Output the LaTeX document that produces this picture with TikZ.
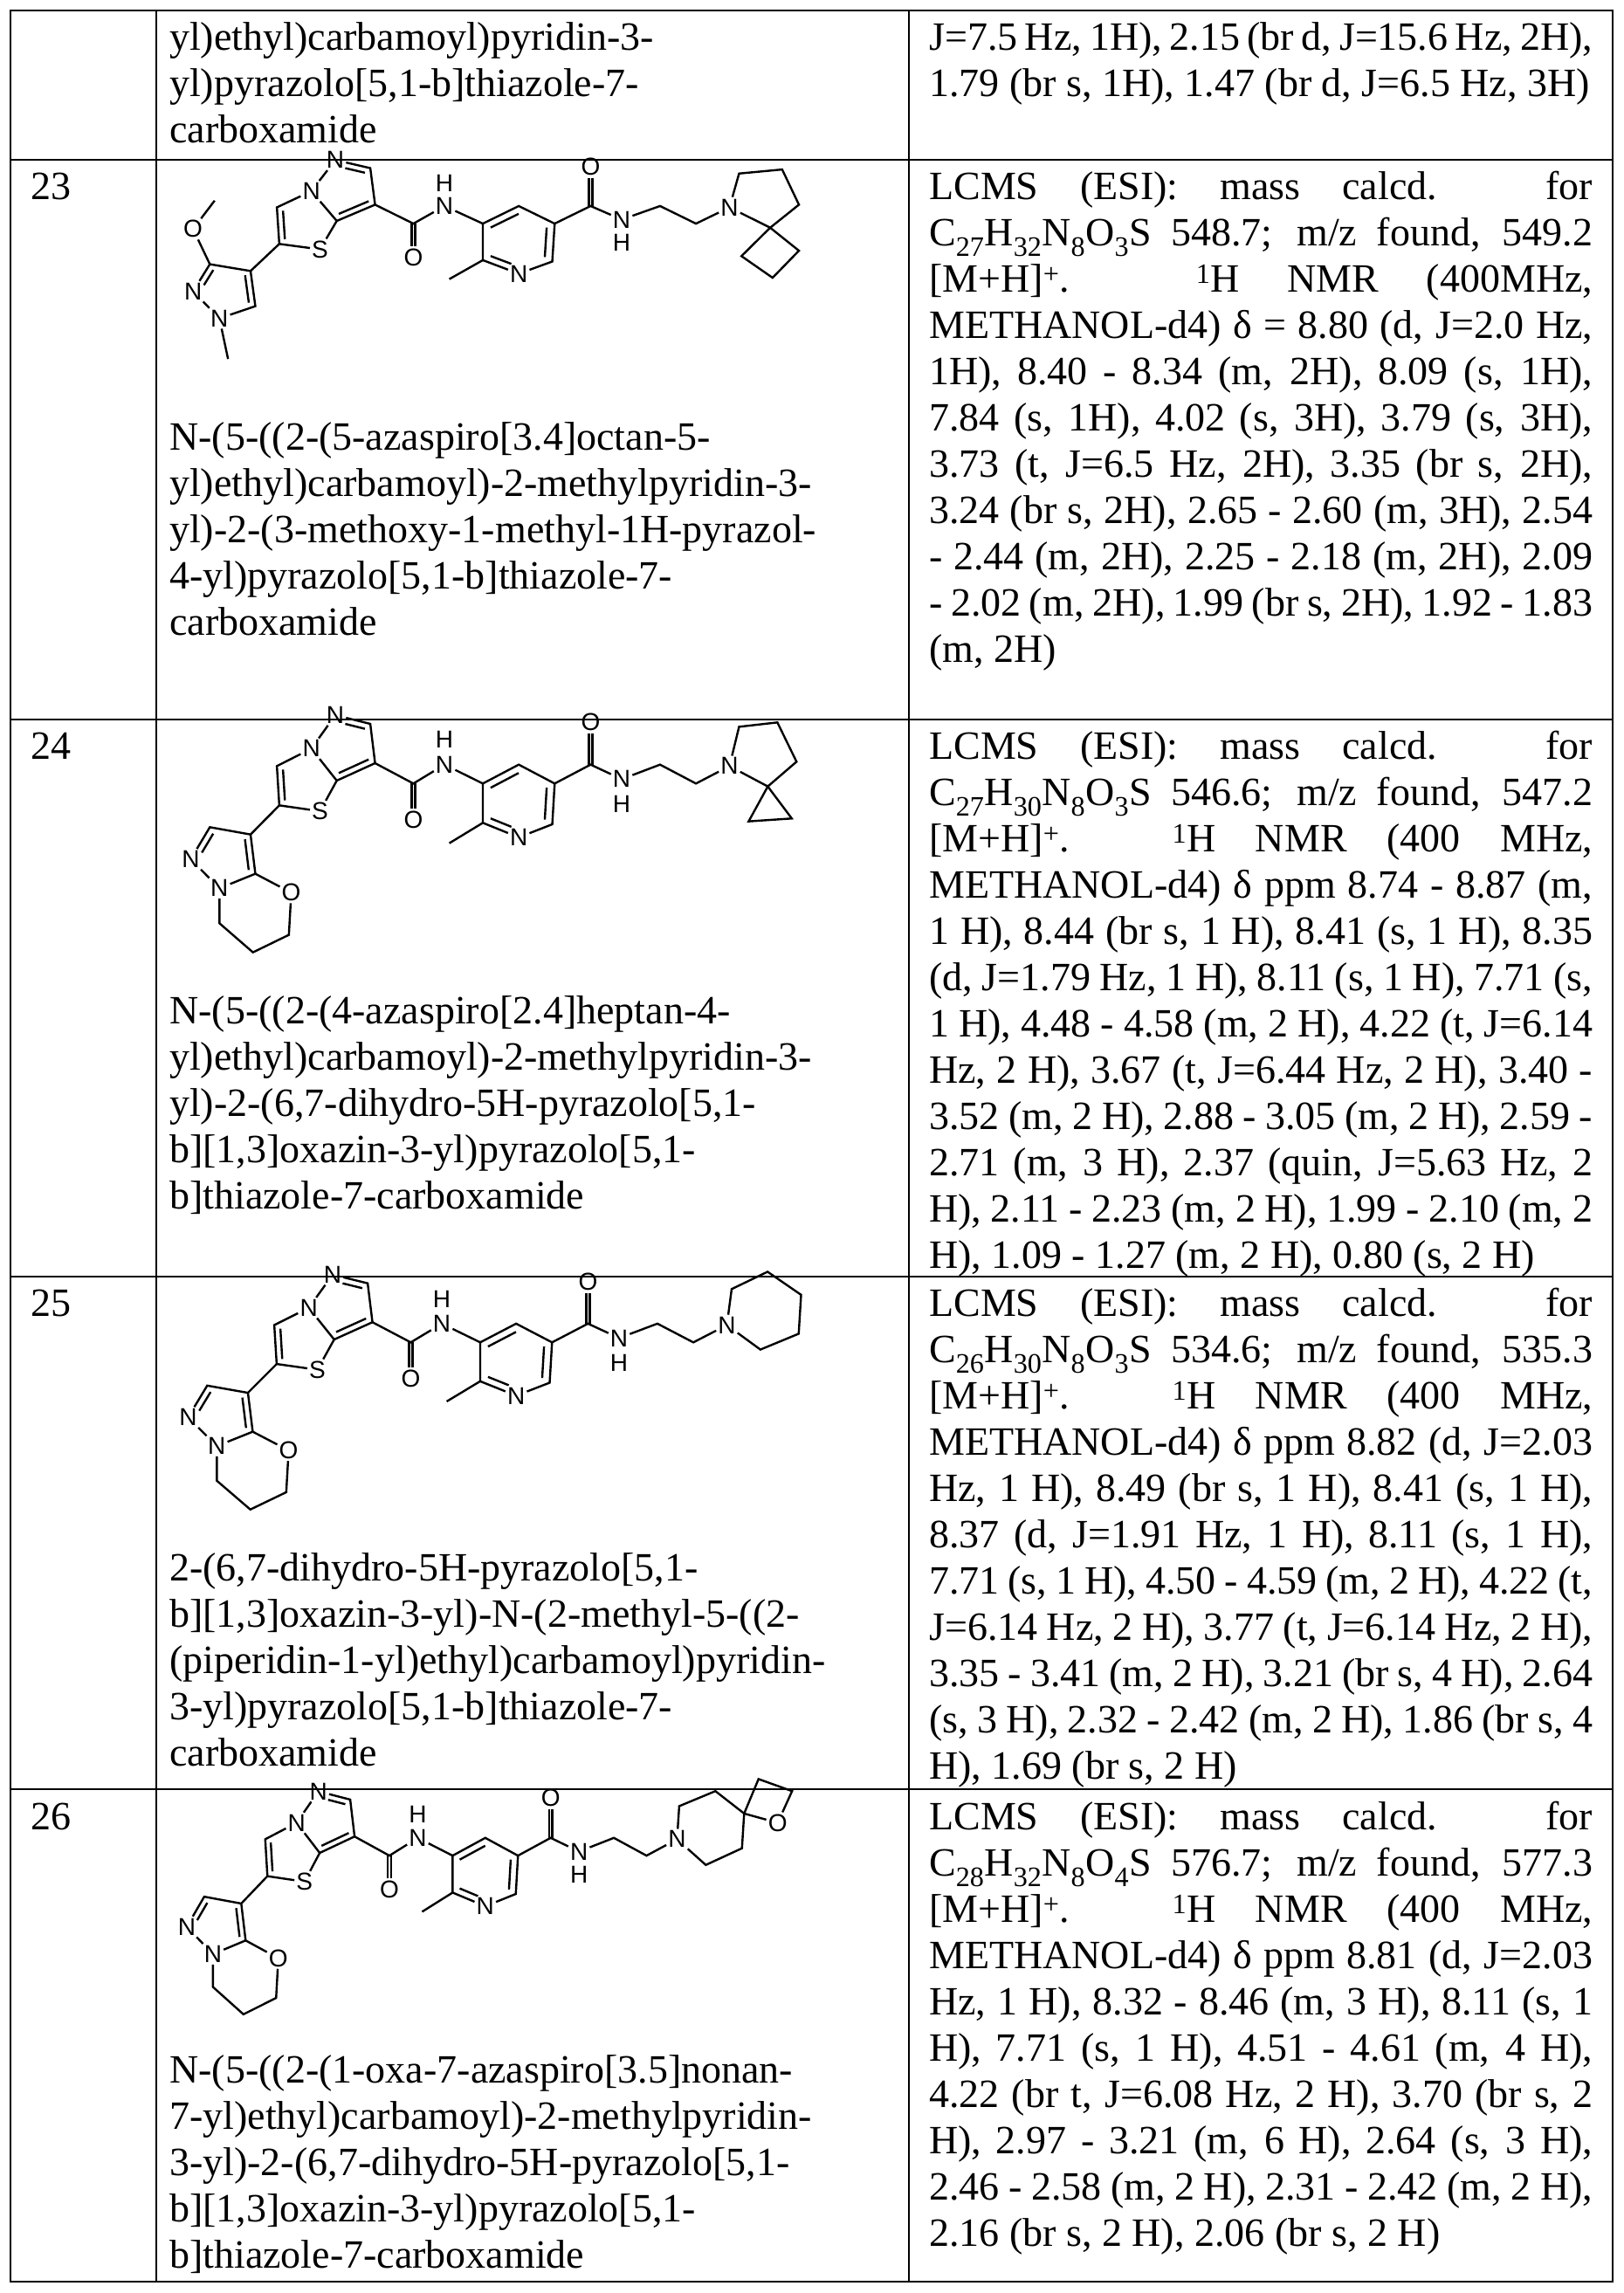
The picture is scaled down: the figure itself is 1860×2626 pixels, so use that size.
\documentclass[tikz,border=0pt]{standalone}
\usepackage{fontspec}
\setmainfont{Liberation Serif}
\newfontfamily\atomfam{Liberation Sans}
\usetikzlibrary{calc}
\newcommand\txtfont{\fontsize{46}{53}\selectfont}
\newcommand\atomfont{\atomfam\fontsize{28}{28}\selectfont}
\tikzset{
  grid/.style={line width=2.2pt},
  bond/.style={line width=2.4pt},
  atom/.style={font=\atomfont, inner sep=2pt},
  cell/.style={anchor=base west, inner sep=0pt, font=\txtfont},
}
\newcommand\dblc[4][]{\draw[bond,#1] ($(#2)!0.22!(#4)$) -- ($(#3)!0.22!(#4)$);}
\newcommand\dblx[2]{%
  \draw[bond,shorten >=13pt] ($(#1)!3.8pt!90:(#2)$) -- ($(#2)!3.8pt!-90:(#1)$);
  \draw[bond,shorten >=13pt] ($(#1)!3.8pt!-90:(#2)$) -- ($(#2)!3.8pt!90:(#1)$);}
\newcommand\corestruct{%
  \node[atom] (nT) at (372,75) {N};
  \coordinate (cH) at (445,105);
  \coordinate (c7) at (455,240);
  \coordinate (c7a) at (375,300);
  \node[atom] (nB) at (322,190) {N};
  \coordinate (cT) at (250,250);
  \coordinate (c2) at (255,385);
  \node[atom] (S) at (340,405) {S};
  \coordinate (ca) at (535,310);
  \node[atom] (oa) at (535,435) {O};
  \node[atom] (nh1) at (600,245) {N};
  \node[atom] (h1) at (600,160) {H};
  \coordinate (p3) at (680,310);
  \coordinate (p4) at (755,245);
  \coordinate (p5) at (830,310);
  \coordinate (p6) at (825,450);
  \node[atom] (pN) at (755,495) {N};
  \coordinate (p2) at (680,445);
  \coordinate (me) at (610,515);
  \coordinate (cb) at (905,245);
  \node[atom] (ob) at (905,100) {O};
  \node[atom] (nh2) at (970,295) {N};
  \node[atom] (h2) at (970,380) {H};
  \coordinate (e1) at (1050,245);
  \coordinate (e2) at (1125,310);
  \node[atom] (nA) at (1195,250) {N};
  \coordinate (cpz) at (394,182);
  \coordinate (cth) at (308,306);
  \coordinate (cpy) at (754,376);
  \draw[bond] (nT)--(cH)--(c7)--(c7a)--(nB)--(nT);
  \draw[bond] (nB)--(cT)--(c2)--(S)--(c7a);
  \dblc[shorten <=9pt]{nT}{cH}{cpz}
  \dblc{c7}{c7a}{cpz}
  \dblc{cT}{c2}{cth}
  \draw[bond] (c7)--(ca)--(nh1)--(p3);
  \dblx{ca}{oa}
  \draw[bond] (p3)--(p4)--(p5)--(p6)--(pN)--(p2)--(p3);
  \draw[bond] (p2)--(me);
  \dblc{p3}{p4}{cpy}
  \dblc{p5}{p6}{cpy}
  \dblc[shorten >=9pt]{p2}{pN}{cpy}
  \draw[bond] (p5)--(cb)--(nh2)--(e1)--(e2)--(nA);
  \dblx{cb}{ob}
}
\newcommand\oxazinesub{%
  \coordinate (q4) at (195,485);
  \coordinate (q3) at (110,460);
  \node[atom] (qN2) at (70,570) {N};
  \node[atom] (qN1) at (130,670) {N};
  \coordinate (q7) at (205,620);
  \node[atom] (qO) at (280,685) {O};
  \coordinate (m1) at (130,790);
  \coordinate (m2) at (200,890);
  \coordinate (m3) at (275,830);
  \coordinate (cq) at (142,561);
  \draw[bond] (c2)--(q4)--(q3)--(qN2)--(qN1)--(q7)--(q4);
  \draw[bond] (q7)--(qO)--(m3)--(m2)--(m1)--(qN1);
  \dblc[shorten >=8pt]{q3}{qN2}{cq}
  \dblc{q4}{q7}{cq}
}
\begin{document}
\begin{tikzpicture}[x=1pt,y=-1pt]
\useasboundingbox (0,0) rectangle (1860,2626);
\fill[white] (0,0) rectangle (1860,2626);
% table grid
\draw[grid] (12,12) rectangle (1847,2613);
\draw[grid] (179,12) -- (179,2613);
\draw[grid] (1041,12) -- (1041,2613);
\foreach \yy in {183,824,1462,2049} \draw[grid] (12,\yy) -- (1847,\yy);

% ---- row 22 (continued)
\node[cell] (n22) at (194,57) {\begin{minipage}[t]{840pt}\raggedright
yl)ethyl)carbamoyl)pyridin-3-\\
yl)pyrazolo[5,1-b]thiazole-7-\\
carboxamide\end{minipage}};
\node[cell] (d22) at (1064,57) {\begin{minipage}[t]{760pt}
J=7.5 Hz, 1H), 2.15 (br d, J=15.6 Hz, 2H),\linebreak
1.79 (br s, 1H), 1.47 (br d, J=6.5 Hz, 3H)\end{minipage}};

% ---- row 23
\node[cell] (r23) at (35,228) {23};
\node[cell] (d23) at (1064,228) {\begin{minipage}[t]{760pt}
LCMS (ESI): mass calcd. for\linebreak
C\textsubscript{27}H\textsubscript{32}N\textsubscript{8}O\textsubscript{3}S 548.7; m/z found, 549.2\linebreak\relax
[M+H]\textsuperscript{+}. \textsuperscript{1}H NMR (400MHz,\linebreak
METHANOL-d4) δ = 8.80 (d, J=2.0 Hz,\linebreak
1H), 8.40 - 8.34 (m, 2H), 8.09 (s, 1H),\linebreak
7.84 (s, 1H), 4.02 (s, 3H), 3.79 (s, 3H),\linebreak
3.73 (t, J=6.5 Hz, 2H), 3.35 (br s, 2H),\linebreak
3.24 (br s, 2H), 2.65 - 2.60 (m, 3H), 2.54\linebreak
- 2.44 (m, 2H), 2.25 - 2.18 (m, 2H), 2.09\linebreak
- 2.02 (m, 2H), 1.99 (br s, 2H), 1.92 - 1.83\linebreak
(m, 2H)\end{minipage}};
\node[cell] (n23) at (194,515) {\begin{minipage}[t]{840pt}\raggedright
N-(5-((2-(5-azaspiro[3.4]octan-5-\\
yl)ethyl)carbamoyl)-2-methylpyridin-3-\\
yl)-2-(3-methoxy-1-methyl-1H-pyrazol-\\
4-yl)pyrazolo[5,1-b]thiazole-7-\\
carboxamide\end{minipage}};
\begin{scope}[shift={(180,160)}, xscale=0.5485, yscale=0.31]
  \corestruct
  \coordinate (q4) at (195,485);
  \coordinate (q3) at (110,460);
  \node[atom] (qO) at (75,330) {O};
  \coordinate (qme) at (120,225);
  \node[atom] (qN2) at (75,560) {N};
  \node[atom] (qN1) at (130,660) {N};
  \coordinate (q5) at (205,615);
  \coordinate (qnme) at (148,810);
  \coordinate (cq) at (143,556);
  \draw[bond] (c2)--(q4)--(q3)--(qN2)--(qN1)--(q5)--(q4);
  \draw[bond] (q3)--(qO)--(qme);
  \draw[bond] (qN1)--(qnme);
  \dblc[shorten >=8pt]{q3}{qN2}{cq}
  \dblc{q4}{q5}{cq}
  \coordinate (r1) at (1215,125);
  \coordinate (r2) at (1305,110);
  \coordinate (r3) at (1340,240);
  \coordinate (sp) at (1280,325);
  \coordinate (k1) at (1340,410);
  \coordinate (k2) at (1285,510);
  \coordinate (k3) at (1220,430);
  \draw[bond] (nA)--(r1)--(r2)--(r3)--(sp)--(nA);
  \draw[bond] (sp)--(k1)--(k2)--(k3)--cycle;
\end{scope}

% ---- row 24
\node[cell] (r24) at (35,869) {24};
\node[cell] (d24) at (1064,869) {\begin{minipage}[t]{760pt}
LCMS (ESI): mass calcd. for\linebreak
C\textsubscript{27}H\textsubscript{30}N\textsubscript{8}O\textsubscript{3}S 546.6; m/z found, 547.2\linebreak\relax
[M+H]\textsuperscript{+}. \textsuperscript{1}H NMR (400 MHz,\linebreak
METHANOL-d4) δ ppm 8.74 - 8.87 (m,\linebreak
1 H), 8.44 (br s, 1 H), 8.41 (s, 1 H), 8.35\linebreak
(d, J=1.79 Hz, 1 H), 8.11 (s, 1 H), 7.71 (s,\linebreak
1 H), 4.48 - 4.58 (m, 2 H), 4.22 (t, J=6.14\linebreak
Hz, 2 H), 3.67 (t, J=6.44 Hz, 2 H), 3.40 -\linebreak
3.52 (m, 2 H), 2.88 - 3.05 (m, 2 H), 2.59 -\linebreak
2.71 (m, 3 H), 2.37 (quin, J=5.63 Hz, 2\linebreak
H), 2.11 - 2.23 (m, 2 H), 1.99 - 2.10 (m, 2\linebreak
H), 1.09 - 1.27 (m, 2 H), 0.80 (s, 2 H)\end{minipage}};
\node[cell] (n24) at (194,1172) {\begin{minipage}[t]{840pt}\raggedright
N-(5-((2-(4-azaspiro[2.4]heptan-4-\\
yl)ethyl)carbamoyl)-2-methylpyridin-3-\\
yl)-2-(6,7-dihydro-5H-pyrazolo[5,1-\\
b][1,3]oxazin-3-yl)pyrazolo[5,1-\\
b]thiazole-7-carboxamide\end{minipage}};
\begin{scope}[shift={(180,794)}, xscale=0.5485, yscale=0.3333]
  \corestruct
  \oxazinesub
  \coordinate (r1) at (1215,115);
  \coordinate (r2) at (1295,100);
  \coordinate (r3) at (1335,235);
  \coordinate (sp) at (1275,320);
  \coordinate (k1) at (1235,440);
  \coordinate (k2) at (1325,430);
  \draw[bond] (nA)--(r1)--(r2)--(r3)--(sp)--(nA);
  \draw[bond] (sp)--(k1)--(k2)--cycle;
\end{scope}

% ---- row 25
\node[cell] (r25) at (35,1507) {25};
\node[cell] (d25) at (1064,1507) {\begin{minipage}[t]{760pt}
LCMS (ESI): mass calcd. for\linebreak
C\textsubscript{26}H\textsubscript{30}N\textsubscript{8}O\textsubscript{3}S 534.6; m/z found, 535.3\linebreak\relax
[M+H]\textsuperscript{+}. \textsuperscript{1}H NMR (400 MHz,\linebreak
METHANOL-d4) δ ppm 8.82 (d, J=2.03\linebreak
Hz, 1 H), 8.49 (br s, 1 H), 8.41 (s, 1 H),\linebreak
8.37 (d, J=1.91 Hz, 1 H), 8.11 (s, 1 H),\linebreak
7.71 (s, 1 H), 4.50 - 4.59 (m, 2 H), 4.22 (t,\linebreak
J=6.14 Hz, 2 H), 3.77 (t, J=6.14 Hz, 2 H),\linebreak
3.35 - 3.41 (m, 2 H), 3.21 (br s, 4 H), 2.64\linebreak
(s, 3 H), 2.32 - 2.42 (m, 2 H), 1.86 (br s, 4\linebreak
H), 1.69 (br s, 2 H)\end{minipage}};
\node[cell] (n25) at (194,1810) {\begin{minipage}[t]{840pt}\raggedright
2-(6,7-dihydro-5H-pyrazolo[5,1-\\
b][1,3]oxazin-3-yl)-N-(2-methyl-5-((2-\\
(piperidin-1-yl)ethyl)carbamoyl)pyridin-\\
3-yl)pyrazolo[5,1-b]thiazole-7-\\
carboxamide\end{minipage}};
\begin{scope}[shift={(177,1435)}, xscale=0.5485, yscale=0.33]
  \corestruct
  \oxazinesub
  \coordinate (r1) at (1205,125);
  \coordinate (r2) at (1280,65);
  \coordinate (r3) at (1350,145);
  \coordinate (r4) at (1345,280);
  \coordinate (r5) at (1265,335);
  \draw[bond] (nA)--(r1)--(r2)--(r3)--(r4)--(r5)--(nA);
\end{scope}

% ---- row 26
\node[cell] (r26) at (35,2095) {26};
\node[cell] (d26) at (1064,2095) {\begin{minipage}[t]{760pt}
LCMS (ESI): mass calcd. for\linebreak
C\textsubscript{28}H\textsubscript{32}N\textsubscript{8}O\textsubscript{4}S 576.7; m/z found, 577.3\linebreak\relax
[M+H]\textsuperscript{+}. \textsuperscript{1}H NMR (400 MHz,\linebreak
METHANOL-d4) δ ppm 8.81 (d, J=2.03\linebreak
Hz, 1 H), 8.32 - 8.46 (m, 3 H), 8.11 (s, 1\linebreak
H), 7.71 (s, 1 H), 4.51 - 4.61 (m, 4 H),\linebreak
4.22 (br t, J=6.08 Hz, 2 H), 3.70 (br s, 2\linebreak
H), 2.97 - 3.21 (m, 6 H), 2.64 (s, 3 H),\linebreak
2.46 - 2.58 (m, 2 H), 2.31 - 2.42 (m, 2 H),\linebreak
2.16 (br s, 2 H), 2.06 (br s, 2 H)\end{minipage}};
\node[cell] (n26) at (194,2385) {\begin{minipage}[t]{840pt}\raggedright
N-(5-((2-(1-oxa-7-azaspiro[3.5]nonan-\\
7-yl)ethyl)carbamoyl)-2-methylpyridin-\\
3-yl)-2-(6,7-dihydro-5H-pyrazolo[5,1-\\
b][1,3]oxazin-3-yl)pyrazolo[5,1-\\
b]thiazole-7-carboxamide\end{minipage}};
\begin{scope}[shift={(179,2028)}, xscale=0.4991, yscale=0.3133]
  \corestruct
  \oxazinesub
  \coordinate (r1) at (1200,129);
  \coordinate (r2) at (1283,74);
  \coordinate (sp) at (1349,156);
  \coordinate (r4) at (1344,283);
  \coordinate (r5) at (1261,344);
  \coordinate (k1) at (1382,30);
  \coordinate (k2) at (1459,74);
  \node[atom] (kO) at (1426,190) {O};
  \draw[bond] (nA)--(r1)--(r2)--(sp)--(r4)--(r5)--(nA);
  \draw[bond] (sp)--(k1)--(k2)--(kO)--(sp);
\end{scope}
\end{tikzpicture}
\end{document}
